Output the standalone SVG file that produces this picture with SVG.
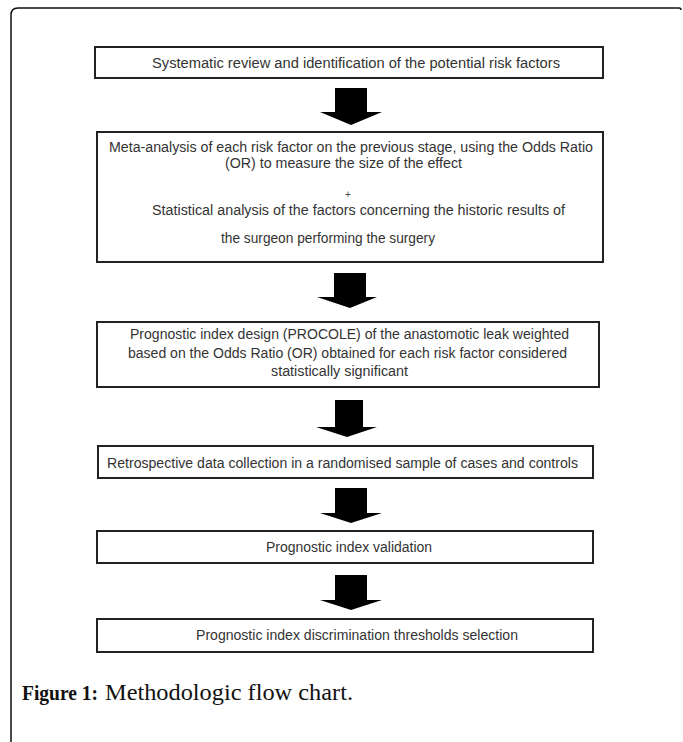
<svg xmlns="http://www.w3.org/2000/svg" width="683" height="742" viewBox="0 0 683 742">
<style>
.box{fill:#fff;stroke:#222;stroke-width:2}
.t{font-family:"Liberation Sans",Arial,sans-serif;font-size:14px;fill:#333;dominant-baseline:central}
.arr{fill:#000}
.cap{font-family:"Liberation Serif","Times New Roman",serif;fill:#111}
</style>
<rect width="683" height="742" fill="#fff"/>
<path d="M11,742 V15 Q11,8 18,8 H679 Q681,8 681,10" fill="none" stroke="#111" stroke-width="1.5"/>
<g id="connectors">
<polygon class="arr" points="335,88 367,88 367,112 382,112 351,125 320,112 335,112"/>
<polygon class="arr" points="334,273 366,273 366,297 377,297 350,308 317,297 334,297"/>
<polygon class="arr" points="335,400 363,400 363,427 377,427 347,437 316,427 335,427"/>
<polygon class="arr" points="335,488 367,488 367,513 382,513 351,523 320,513 335,513"/>
<polygon class="arr" points="335,575 367,575 367,600 382,600 351,610 320,600 335,600"/>
</g>
<g id="n1">
<rect class="box" x="95" y="47" width="508" height="31"/>
<text class="t" x="152" y="63" textLength="408" lengthAdjust="spacingAndGlyphs">Systematic review and identification of the potential risk factors</text>
</g>
<g id="n2">
<rect class="box" x="97" y="132" width="506" height="130"/>
<text class="t" x="109" y="147" textLength="484" lengthAdjust="spacingAndGlyphs">Meta-analysis of each risk factor on the previous stage, using the Odds Ratio</text>
<text class="t" x="225" y="163" textLength="237" lengthAdjust="spacingAndGlyphs">(OR) to measure the size of the effect</text>
<text class="t" x="345" y="194" style="font-size:10px;fill:#445">+</text>
<text class="t" x="152" y="210" textLength="413" lengthAdjust="spacingAndGlyphs">Statistical analysis of the factors concerning the historic results of</text>
<text class="t" x="221" y="238" textLength="214" lengthAdjust="spacingAndGlyphs">the surgeon performing the surgery</text>
</g>
<g id="n3">
<rect class="box" x="97" y="322" width="502" height="65"/>
<text class="t" x="130" y="334" textLength="439" lengthAdjust="spacingAndGlyphs">Prognostic index design (PROCOLE) of the anastomotic leak weighted</text>
<text class="t" x="128" y="353" textLength="439" lengthAdjust="spacingAndGlyphs">based on the Odds Ratio (OR) obtained for each risk factor considered</text>
<text class="t" x="271" y="371" textLength="137" lengthAdjust="spacingAndGlyphs">statistically significant</text>
</g>
<g id="n4">
<rect class="box" x="98" y="446" width="495" height="32"/>
<text class="t" x="107" y="463" textLength="471" lengthAdjust="spacingAndGlyphs">Retrospective data collection in a randomised sample of cases and controls</text>
</g>
<g id="n5">
<rect class="box" x="97" y="531" width="496" height="32"/>
<text class="t" x="266" y="547" textLength="166" lengthAdjust="spacingAndGlyphs">Prognostic index validation</text>
</g>
<g id="n6">
<rect class="box" x="97" y="619" width="496" height="33"/>
<text class="t" x="196" y="635" textLength="322" lengthAdjust="spacingAndGlyphs">Prognostic index discrimination thresholds selection</text>
</g>
<text class="cap" x="22" y="700" font-size="21" font-weight="bold" textLength="76" lengthAdjust="spacingAndGlyphs">Figure 1:</text>
<text class="cap" x="105" y="700" font-size="23" textLength="248" lengthAdjust="spacingAndGlyphs">Methodologic flow chart.</text>
</svg>
